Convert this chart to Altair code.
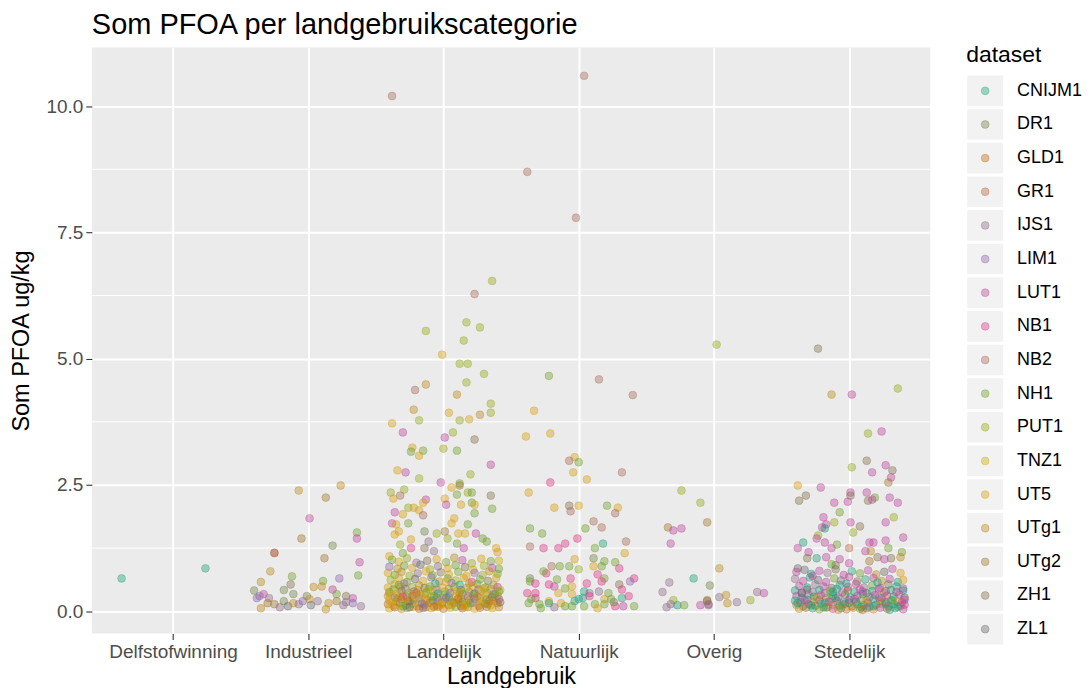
import json
import altair as alt
import pandas as pd

# ---------------- data ----------------
datasets = ["CNIJM1", "DR1", "GLD1", "GR1", "IJS1", "LIM1", "LUT1", "NB1", "NB2",
            "NH1", "PUT1", "TNZ1", "UT5", "UTg1", "UTg2", "ZH1", "ZL1"]
palette = ["#1B9E77", "#6E8244", "#C16711", "#BA6439", "#8E6C87", "#8A63AB", "#BC4499",
           "#DF3183", "#A76854", "#6E9E25", "#96A814", "#CEAA07", "#D69E09", "#BA8715",
           "#9E7426", "#826D46", "#666666"]
categories = ["Delfstofwinning", "Industrieel", "Landelijk", "Natuurlijk", "Overig", "Stedelijk"]
y_ticks = [0, 2.5, 5, 7.5, 10]
y_minor = [1.25, 3.75, 6.25, 8.75]

# (dataset index, jitter in category units, Som PFOA ug/kg)
delfstofwinning = [(0, -0.38, 0.65), (0, 0.24, 0.85)]

industrieel = [
    (13, -0.07, 2.39), (14, 0.13, 2.25), (13, 0.24, 2.49), (6, 0.01, 1.84), (14, -0.05, 1.44),
    (9, 0.36, 1.56), (6, 0.36, 1.44), (1, 0.18, 1.30), (3, -0.25, 1.15), (8, -0.25, 1.16),
    (14, 0.12, 1.05), (6, 0.38, 0.97), (13, -0.28, 0.79), (9, -0.12, 0.69), (9, 0.37, 0.71),
    (5, 0.23, 0.65), (13, -0.35, 0.58), (15, -0.13, 0.53), (9, 0.11, 0.60), (13, 0.04, 0.48),
    (1, -0.40, 0.41), (5, -0.38, 0.26), (6, -0.33, 0.34), (4, -0.29, 0.26), (14, -0.25, 0.14),
    (4, -0.21, 0.08), (1, -0.18, 0.20), (16, -0.15, 0.10), (1, -0.11, 0.34), (13, -0.11, 0.16),
    (4, -0.07, 0.14), (5, -0.04, 0.20), (1, -0.01, 0.30), (13, 0.01, 0.24), (4, 0.07, 0.20),
    (13, 0.10, 0.49), (13, 0.15, 0.16), (13, 0.13, 0.04), (6, 0.18, 0.43), (9, 0.21, 0.34),
    (14, 0.21, 0.20), (6, 0.33, 0.26), (5, 0.33, 0.16), (4, 0.39, 0.10), (13, -0.35, 0.06),
    (14, -0.30, 0.16), (1, -0.18, 0.42), (16, 0.02, 0.12), (4, 0.26, 0.12), (5, -0.36, 0.30),
    (15, 0.28, 0.30), (4, 0.28, 0.18),
]

landelijk = [
    (8, -0.38, 10.2), (10, 0.36, 6.54), (8, 0.23, 6.28), (10, 0.17, 5.72), (10, -0.13, 5.55),
    (10, 0.27, 5.62), (10, 0.15, 5.36), (12, -0.01, 5.08), (10, 0.12, 4.90), (10, 0.18, 4.90),
    (10, 0.30, 4.70), (10, 0.17, 4.53), (13, -0.13, 4.49), (8, -0.21, 4.38), (13, 0.10, 4.29),
    (10, 0.35, 4.11), (10, 0.35, 3.93), (13, -0.22, 3.99), (12, 0.04, 3.93), (13, 0.27, 3.89),
    (12, 0.19, 3.80), (10, 0.12, 3.78), (10, -0.18, 3.78), (12, -0.38, 3.72), (6, -0.30, 3.54),
    (6, 0.01, 3.44), (10, 0.07, 3.54), (15, 0.23, 3.40), (12, -0.23, 3.24), (9, -0.24, 3.16),
    (9, -0.15, 3.18), (12, -0.18, 3.08), (10, 0.00, 3.22), (9, 0.10, 3.18), (6, 0.35, 2.90),
    (12, -0.34, 2.79), (6, -0.28, 2.75), (10, -0.18, 2.63), (10, 0.20, 2.71), (6, -0.02, 2.55),
    (12, 0.06, 2.45), (9, 0.12, 2.53), (14, 0.12, 2.49), (10, -0.39, 2.35), (10, -0.29, 2.41),
    (8, -0.32, 2.29), (12, -0.37, 2.23), (6, -0.13, 2.21), (12, 0.01, 2.23), (9, 0.10, 2.31),
    (10, 0.18, 2.35), (9, 0.21, 2.35), (15, 0.35, 2.29), (6, 0.02, 2.11), (12, -0.15, 2.15),
    (12, 0.13, 2.11), (9, 0.21, 2.15), (12, 0.23, 2.11), (9, 0.36, 2.03), (10, -0.26, 2.05),
    (12, -0.22, 2.05), (12, -0.18, 2.00), (6, -0.36, 1.96), (12, -0.30, 1.92), (8, -0.15, 1.90),
    (12, 0.08, 1.84), (12, 0.06, 1.74), (9, 0.23, 1.94), (6, -0.38, 1.74), (12, -0.35, 1.72),
    (9, -0.26, 1.74), (12, -0.33, 1.58), (12, -0.36, 1.52), (1, -0.14, 1.58), (10, -0.05, 1.54),
    (14, 0.01, 1.58), (12, 0.11, 1.54), (12, 0.16, 1.54), (6, 0.24, 1.54), (9, 0.18, 1.72),
    (10, 0.03, 1.44), (9, 0.29, 1.44), (9, 0.32, 1.38), (12, -0.24, 1.42), (4, -0.11, 1.38),
    (10, -0.32, 1.32), (9, 0.10, 1.34), (12, 0.39, 1.25), (12, 0.40, 1.17), (15, -0.14, 1.25),
    (4, -0.07, 1.19), (7, -0.24, 1.25), (6, 0.15, 1.25), (9, -0.30, 1.15), (12, -0.40, 1.09),
    # dense part
    (9, -0.38, 1.02), (12, -0.33, 0.98), (10, -0.27, 1.05), (4, -0.20, 0.96), (15, -0.12, 1.00),
    (12, -0.05, 1.03), (9, 0.02, 0.97), (13, 0.08, 1.06), (6, 0.14, 1.01), (10, 0.21, 0.95),
    (12, 0.28, 1.04), (9, 0.35, 0.99), (11, 0.41, 1.00), (5, -0.40, 0.88), (13, -0.34, 0.84),
    (9, -0.29, 0.90), (12, -0.23, 0.86), (16, -0.17, 0.92), (10, -0.10, 0.83), (4, -0.04, 0.89),
    (12, 0.03, 0.85), (9, 0.09, 0.91), (15, 0.16, 0.87), (12, 0.22, 0.82), (10, 0.30, 0.90),
    (6, 0.36, 0.86), (9, 0.41, 0.84), (12, -0.41, 0.76), (9, -0.36, 0.72), (13, -0.31, 0.78),
    (10, -0.25, 0.70), (4, -0.19, 0.75), (12, -0.13, 0.79), (9, -0.08, 0.71), (15, -0.02, 0.77),
    (11, 0.04, 0.73), (9, 0.11, 0.78), (12, 0.17, 0.70), (5, 0.23, 0.76), (10, 0.29, 0.72),
    (13, 0.34, 0.79), (9, 0.40, 0.74), (10, -0.39, 0.62), (12, -0.33, 0.66), (9, -0.27, 0.58),
    (16, -0.21, 0.64), (12, -0.15, 0.60), (4, -0.09, 0.67), (13, -0.03, 0.59), (9, 0.03, 0.65),
    (10, 0.09, 0.61), (12, 0.15, 0.66), (7, 0.21, 0.58), (9, 0.27, 0.63), (15, 0.33, 0.60),
    (12, 0.39, 0.66), (0, -0.06, 0.55), (0, 0.12, 0.52), (12, -0.36, 0.53), (9, 0.25, 0.54),
    (13, -0.18, 0.51), (5, 0.06, 0.56), (10, 0.37, 0.52), (4, -0.29, 0.55),
    (12, -0.41, 0.47), (9, -0.37, 0.43), (13, -0.32, 0.49), (4, -0.28, 0.44), (10, -0.23, 0.48),
    (12, -0.19, 0.42), (15, -0.14, 0.46), (9, -0.10, 0.49), (5, -0.05, 0.43), (12, -0.01, 0.47),
    (13, 0.04, 0.44), (9, 0.08, 0.48), (16, 0.13, 0.42), (10, 0.17, 0.46), (12, 0.22, 0.49),
    (4, 0.26, 0.43), (9, 0.31, 0.47), (13, 0.35, 0.44), (6, 0.40, 0.48), (11, 0.42, 0.42),
    (9, -0.40, 0.38), (12, -0.35, 0.35), (15, -0.31, 0.40), (10, -0.26, 0.36), (4, -0.22, 0.39),
    (13, -0.17, 0.34), (9, -0.13, 0.37), (12, -0.08, 0.41), (0, -0.04, 0.35), (10, 0.01, 0.39),
    (5, 0.05, 0.36), (12, 0.10, 0.40), (9, 0.14, 0.34), (13, 0.19, 0.38), (16, 0.23, 0.35),
    (12, 0.28, 0.41), (10, 0.32, 0.37), (4, 0.37, 0.34), (9, 0.41, 0.39), (2, -0.20, 0.36),
    (13, -0.41, 0.30), (5, -0.36, 0.27), (12, -0.32, 0.32), (9, -0.27, 0.28), (2, -0.23, 0.31),
    (4, -0.18, 0.26), (12, -0.14, 0.33), (10, -0.09, 0.29), (15, -0.05, 0.27), (9, 0.00, 0.32),
    (0, 0.04, 0.28), (12, 0.09, 0.31), (13, 0.13, 0.26), (4, 0.18, 0.30), (9, 0.22, 0.33),
    (2, 0.27, 0.27), (12, 0.31, 0.32), (16, 0.36, 0.28), (10, 0.40, 0.31), (7, -0.30, 0.29),
    (12, -0.40, 0.22), (9, -0.35, 0.19), (2, -0.31, 0.24), (13, -0.26, 0.20), (4, -0.22, 0.23),
    (10, -0.17, 0.18), (12, -0.13, 0.25), (0, -0.08, 0.21), (5, -0.04, 0.19), (13, 0.01, 0.24),
    (9, 0.05, 0.20), (12, 0.10, 0.23), (15, 0.14, 0.18), (2, 0.19, 0.22), (4, 0.23, 0.25),
    (12, 0.28, 0.19), (9, 0.32, 0.23), (13, 0.37, 0.20), (6, 0.41, 0.24), (14, -0.01, 0.17),
    (2, -0.41, 0.14), (12, -0.37, 0.11), (13, -0.32, 0.16), (9, -0.28, 0.12), (0, -0.23, 0.15),
    (12, -0.19, 0.10), (4, -0.14, 0.13), (2, -0.10, 0.17), (13, -0.05, 0.11), (12, -0.01, 0.15),
    (9, 0.04, 0.12), (14, 0.08, 0.16), (2, 0.13, 0.10), (12, 0.17, 0.14), (5, 0.22, 0.17),
    (13, 0.26, 0.11), (0, 0.31, 0.15), (12, 0.35, 0.12), (2, 0.40, 0.16), (10, 0.15, 0.13),
    (12, -0.40, 0.06), (2, -0.36, 0.08), (13, -0.31, 0.05), (9, -0.27, 0.07), (12, -0.22, 0.09),
    (2, -0.18, 0.05), (14, -0.13, 0.08), (12, -0.09, 0.06), (13, -0.04, 0.09), (2, 0.00, 0.05),
    (12, 0.05, 0.07), (9, 0.09, 0.09), (2, 0.14, 0.06), (13, 0.18, 0.08), (12, 0.23, 0.05),
    (2, 0.27, 0.07), (14, 0.32, 0.09), (12, 0.36, 0.06), (13, 0.41, 0.08), (4, -0.15, 0.07),
    (12, -0.38, 0.18), (13, -0.34, 0.25), (9, -0.30, 0.10), (2, -0.25, 0.20), (12, -0.21, 0.28),
    (4, -0.16, 0.15), (13, -0.12, 0.22), (9, -0.07, 0.30), (12, -0.02, 0.12), (5, 0.02, 0.27),
    (13, 0.07, 0.18), (2, 0.11, 0.25), (12, 0.16, 0.09), (9, 0.20, 0.16), (13, 0.25, 0.29),
    (12, 0.29, 0.14), (2, 0.34, 0.21), (9, 0.38, 0.33), (15, 0.42, 0.18), (12, -0.40, 0.35),
    (10, -0.11, 0.44), (13, 0.12, 0.36), (12, 0.30, 0.45), (9, -0.33, 0.52), (12, 0.02, 0.58),
    (13, 0.19, 0.55), (16, -0.25, 0.08), (12, 0.06, 0.13), (2, -0.07, 0.09), (13, 0.33, 0.15),
]

natuurlijk = [
    (8, 0.04, 10.6), (8, -0.38, 8.70), (8, -0.02, 7.79), (9, -0.22, 4.66), (8, 0.15, 4.59),
    (8, 0.40, 4.28), (12, -0.33, 3.97), (12, -0.39, 3.46), (12, -0.21, 3.52), (12, -0.03, 3.05),
    (8, -0.07, 2.98), (9, 0.00, 2.95), (12, -0.04, 2.75), (12, 0.06, 2.61), (8, 0.32, 2.75),
    (7, -0.21, 2.55), (12, -0.37, 2.35), (12, -0.18, 2.05), (15, -0.07, 2.09), (8, -0.06, 1.98),
    (12, 0.00, 2.09), (9, 0.21, 2.09), (12, 0.29, 2.05), (8, 0.27, 1.94), (8, 0.11, 1.78),
    (8, 0.17, 1.66), (9, 0.05, 1.64), (9, -0.36, 1.64), (9, -0.27, 1.54), (8, -0.36, 1.28),
    (7, -0.26, 1.25), (7, -0.15, 1.25), (7, -0.10, 1.34), (7, -0.01, 1.44), (0, 0.18, 1.34),
    (9, 0.12, 1.25), (8, 0.35, 1.38), (12, 0.34, 1.15), (1, 0.11, 1.05), (12, -0.03, 1.03),
    (9, 0.27, 0.97), (9, 0.19, 0.99), (12, 0.11, 0.89), (9, 0.17, 0.89), (8, -0.20, 0.89),
    (9, -0.14, 0.89), (9, -0.07, 0.89), (7, 0.30, 0.85), (7, -0.24, 0.75), (9, -0.26, 0.79),
    (10, 0.00, 0.83), (7, 0.14, 0.73), (1, -0.36, 0.65), (9, -0.36, 0.59), (7, -0.06, 0.65),
    (9, -0.16, 0.63), (9, 0.19, 0.65), (7, 0.41, 0.65), (5, 0.38, 0.59), (7, -0.32, 0.55),
    (7, -0.22, 0.53), (6, -0.18, 0.49), (7, 0.06, 0.55), (7, 0.17, 0.59), (9, -0.10, 0.45),
    (12, -0.05, 0.49), (15, 0.30, 0.53), (7, 0.32, 0.43), (0, 0.04, 0.39), (4, 0.08, 0.36),
    (4, 0.15, 0.39), (9, 0.22, 0.36), (7, -0.38, 0.36), (7, -0.32, 0.36), (12, -0.15, 0.36),
    (12, -0.05, 0.34), (7, -0.32, 0.26), (9, -0.35, 0.24), (12, -0.22, 0.20), (12, -0.13, 0.16),
    (0, 0.00, 0.24), (0, 0.03, 0.26), (0, -0.03, 0.20), (7, 0.08, 0.30), (12, 0.19, 0.24),
    (9, 0.24, 0.24), (0, 0.32, 0.26), (7, 0.37, 0.30), (9, -0.37, 0.16), (0, -0.22, 0.16),
    (9, -0.10, 0.10), (9, -0.05, 0.10), (9, 0.04, 0.10), (9, 0.12, 0.14), (9, 0.19, 0.14),
    (7, 0.27, 0.10), (6, 0.33, 0.10), (9, 0.41, 0.10), (9, -0.29, 0.14), (1, 0.26, 0.18),
    (4, -0.18, 0.08), (12, 0.14, 0.06), (9, -0.28, 0.06),
]

overig = [
    (10, 0.02, 5.28), (10, -0.24, 2.39), (10, -0.10, 2.15), (14, -0.05, 1.76), (14, -0.34, 1.66),
    (6, -0.30, 1.60), (6, -0.24, 1.64), (6, -0.32, 1.34), (13, 0.04, 0.85), (0, -0.15, 0.65),
    (4, -0.33, 0.57), (1, -0.03, 0.51), (4, -0.38, 0.38), (4, 0.32, 0.38), (6, 0.37, 0.36),
    (4, 0.04, 0.28), (13, 0.09, 0.32), (10, 0.27, 0.22), (13, 0.10, 0.16), (4, 0.17, 0.18),
    (14, -0.05, 0.22), (6, -0.04, 0.14), (10, -0.30, 0.22), (0, -0.27, 0.12), (9, -0.22, 0.12),
    (4, -0.35, 0.08), (4, -0.32, 0.14), (6, -0.10, 0.12), (4, -0.04, 0.12), (15, -0.05, 0.20),
]

stedelijk = [
    (15, -0.23, 5.20), (13, -0.13, 4.29), (6, 0.02, 4.29), (10, 0.36, 4.41), (10, 0.14, 3.52),
    (6, 0.24, 3.56), (15, 0.13, 2.98), (10, 0.02, 2.85), (6, 0.27, 2.89), (15, 0.32, 2.79),
    (6, 0.17, 2.75), (6, 0.31, 2.65), (14, 0.29, 2.55), (12, -0.38, 2.49), (6, -0.21, 2.45),
    (15, -0.32, 2.29), (15, -0.37, 2.19), (6, 0.01, 2.35), (15, 0.01, 2.29), (6, 0.13, 2.35),
    (9, 0.19, 2.25), (15, 0.14, 2.19), (6, 0.17, 2.21), (6, 0.30, 2.25), (6, -0.11, 2.15),
    (6, -0.01, 2.17), (6, 0.36, 2.15), (9, -0.07, 1.96), (6, -0.19, 1.86), (10, 0.33, 1.86),
    (6, 0.01, 1.76), (15, 0.08, 1.68), (10, -0.11, 1.76), (6, -0.20, 1.66), (6, -0.17, 1.72),
    (0, -0.18, 1.64), (6, 0.27, 1.76), (10, 0.03, 1.56), (10, -0.23, 1.50), (6, -0.24, 1.44),
    (6, 0.40, 1.46), (0, -0.34, 1.36), (6, -0.18, 1.36), (6, -0.13, 1.25), (9, -0.09, 1.32),
    (6, 0.15, 1.36), (6, 0.18, 1.36), (6, 0.27, 1.40), (6, -0.38, 1.25), (3, 0.00, 1.25),
    (9, 0.29, 1.25), (6, -0.30, 1.17), (6, 0.12, 1.19), (13, 0.16, 1.19), (9, 0.39, 1.17),
    (15, -0.31, 1.05), (0, -0.24, 1.05), (6, -0.17, 1.07), (6, -0.07, 1.03), (9, -0.13, 0.93),
    (1, -0.10, 0.91), (15, 0.21, 1.07), (15, 0.31, 1.05), (13, 0.38, 1.07), (16, -0.38, 0.85),
    (6, 0.00, 0.95), (14, 0.15, 0.99), (6, 0.26, 1.03),
    # dense part
    (6, -0.39, 0.78), (16, -0.33, 0.82), (0, -0.28, 0.74), (6, -0.22, 0.80), (4, -0.16, 0.76),
    (15, -0.10, 0.83), (6, -0.04, 0.72), (0, 0.02, 0.79), (9, 0.08, 0.75), (6, 0.14, 0.81),
    (13, 0.20, 0.73), (16, 0.26, 0.78), (6, 0.32, 0.84), (12, 0.38, 0.76), (4, -0.40, 0.64),
    (6, -0.34, 0.60), (0, -0.29, 0.67), (16, -0.23, 0.62), (6, -0.17, 0.58), (9, -0.11, 0.65),
    (4, -0.06, 0.61), (6, 0.00, 0.68), (15, 0.06, 0.59), (0, 0.12, 0.63), (6, 0.18, 0.66),
    (13, 0.24, 0.60), (6, 0.30, 0.64), (0, 0.36, 0.58), (12, 0.40, 0.62), (6, -0.37, 0.50),
    (0, -0.31, 0.47), (4, -0.25, 0.53), (6, -0.19, 0.49), (16, -0.13, 0.46), (0, -0.07, 0.52),
    (7, -0.01, 0.48), (6, 0.05, 0.54), (4, 0.11, 0.47), (9, 0.17, 0.51), (6, 0.23, 0.46),
    (15, 0.29, 0.53), (0, 0.35, 0.49), (6, 0.40, 0.45),
    (0, -0.40, 0.41), (6, -0.35, 0.37), (16, -0.31, 0.43), (4, -0.27, 0.38), (0, -0.22, 0.42),
    (6, -0.18, 0.36), (9, -0.14, 0.40), (0, -0.09, 0.44), (6, -0.05, 0.37), (15, -0.01, 0.41),
    (0, 0.04, 0.38), (6, 0.08, 0.43), (16, 0.13, 0.36), (0, 0.17, 0.40), (6, 0.22, 0.44),
    (13, 0.26, 0.37), (0, 0.31, 0.42), (6, 0.35, 0.38), (0, 0.40, 0.41),
    (6, -0.39, 0.30), (0, -0.35, 0.27), (4, -0.30, 0.33), (0, -0.26, 0.29), (6, -0.21, 0.32),
    (9, -0.17, 0.26), (0, -0.12, 0.31), (6, -0.08, 0.28), (1, -0.03, 0.33), (0, 0.01, 0.27),
    (6, 0.06, 0.30), (0, 0.10, 0.34), (4, 0.15, 0.28), (6, 0.19, 0.32), (0, 0.24, 0.26),
    (7, 0.28, 0.31), (0, 0.33, 0.29), (6, 0.37, 0.33), (16, 0.41, 0.27),
    (0, -0.40, 0.21), (6, -0.36, 0.18), (0, -0.31, 0.23), (13, -0.27, 0.19), (6, -0.22, 0.22),
    (0, -0.18, 0.17), (9, -0.13, 0.24), (6, -0.09, 0.20), (0, -0.04, 0.18), (6, 0.00, 0.23),
    (0, 0.05, 0.19), (9, 0.09, 0.22), (6, 0.14, 0.17), (0, 0.18, 0.24), (13, 0.23, 0.20),
    (6, 0.27, 0.18), (0, 0.32, 0.22), (12, 0.36, 0.19), (6, 0.41, 0.23),
    (13, -0.39, 0.13), (0, -0.34, 0.10), (6, -0.30, 0.14), (2, -0.25, 0.11), (0, -0.21, 0.15),
    (9, -0.16, 0.09), (13, -0.12, 0.13), (0, -0.07, 0.11), (6, -0.03, 0.15), (2, 0.02, 0.10),
    (0, 0.06, 0.14), (9, 0.11, 0.12), (6, 0.15, 0.09), (0, 0.20, 0.13), (13, 0.24, 0.15),
    (6, 0.29, 0.10), (0, 0.33, 0.14), (2, 0.38, 0.11), (6, 0.41, 0.13),
    (13, -0.37, 0.05), (2, -0.32, 0.07), (0, -0.27, 0.06), (9, -0.22, 0.04), (13, -0.17, 0.07),
    (6, -0.12, 0.05), (0, -0.06, 0.06), (2, -0.02, 0.04), (13, 0.03, 0.07), (9, 0.08, 0.05),
    (0, 0.13, 0.06), (13, 0.18, 0.04), (6, 0.23, 0.07), (2, 0.28, 0.05), (0, 0.34, 0.06),
    (6, 0.40, 0.04),
    (0, -0.38, 0.16), (6, -0.33, 0.22), (0, -0.28, 0.12), (13, -0.24, 0.28), (0, -0.19, 0.08),
    (6, -0.15, 0.19), (0, -0.10, 0.26), (9, -0.05, 0.13), (0, 0.00, 0.17), (6, 0.04, 0.24),
    (0, 0.09, 0.08), (13, 0.13, 0.21), (0, 0.18, 0.10), (6, 0.22, 0.28), (0, 0.27, 0.15),
    (9, 0.31, 0.21), (0, 0.36, 0.09), (6, 0.39, 0.18), (16, -0.35, 0.36), (0, -0.12, 0.38),
    (6, 0.10, 0.39), (4, 0.27, 0.40), (0, -0.02, 0.55), (6, -0.27, 0.70), (0, 0.21, 0.57),
    (13, -0.08, 0.03), (2, 0.10, 0.03), (0, 0.30, 0.03),
]

groups = [delfstofwinning, industrieel, landelijk, natuurlijk, overig, stedelijk]

rows = []
for ci, pts in enumerate(groups):
    for s, j, v in pts:
        rows.append({"cat": ci, "jit": j, "dataset": datasets[s], "pfoa": v})
df = pd.DataFrame(rows)

FONT = "Liberation Sans"
PT_SIZE = 62

color_scale = alt.Scale(domain=datasets, range=palette)
y_scale = alt.Scale(domain=[-0.44, 11.16], nice=False, zero=False)
x_scale = alt.Scale(domain=[-0.6, 5.6], nice=False, zero=False)

y_axis = alt.Axis(values=y_ticks, format=".1f", grid=True, gridColor="white", gridWidth=2,
                  domain=False, tickColor="#333333", tickSize=6, tickWidth=1.1,
                  labelColor="#4D4D4D", labelFontSize=19, labelPadding=3, labelFont=FONT,
                  labelFlush=False, titleFontSize=23.5, titleColor="black",
                  titleFontWeight="normal", titleFont=FONT, titlePadding=12)

label_expr = json.dumps(categories) + "[datum.value]"
x_axis = alt.Axis(values=list(range(len(categories))), labelExpr=label_expr, grid=True,
                  gridColor="white", gridWidth=2, domain=False, tickColor="#333333",
                  tickSize=6, tickWidth=1.1, labelColor="#4D4D4D", labelFontSize=19,
                  labelPadding=3, labelFont=FONT, labelOverlap=False, labelFlush=False,
                  titleFontSize=23.5, titleColor="black", titleFontWeight="normal",
                  titleFont=FONT, titlePadding=3)

minor = alt.Chart(pd.DataFrame({"v": y_minor})).mark_rule(color="white", strokeWidth=1).encode(
    y=alt.Y("v:Q", scale=y_scale, axis=y_axis, title="Som PFOA ug/kg")
)

points = alt.Chart(df).transform_calculate(
    xpos="datum.cat + datum.jit"
).mark_circle(size=PT_SIZE, fillOpacity=0.4, strokeOpacity=0.4, strokeWidth=0.8).encode(
    x=alt.X("xpos:Q", scale=x_scale, axis=x_axis, title="Landgebruik"),
    y=alt.Y("pfoa:Q", scale=y_scale, axis=y_axis, title="Som PFOA ug/kg"),
    fill=alt.Fill("dataset:N", scale=color_scale, legend=None),
    stroke=alt.Stroke("dataset:N", scale=color_scale, legend=None),
)

main = alt.layer(minor, points).properties(
    width=840, height=587,
    view=alt.ViewBackground(fill="#EBEBEB", strokeWidth=0),
    title=alt.Title("Som PFOA per landgebruikscategorie", anchor="start", frame="group",
                    fontSize=29, fontWeight="normal", color="black", font=FONT, offset=8),
)

# ---------------- legend ----------------
leg_df = pd.DataFrame({"dataset": datasets})
y_leg = alt.Y("dataset:N", sort=datasets, axis=None,
              scale=alt.Scale(domain=datasets, range=[28, 598], paddingInner=0.09, paddingOuter=0.0))

keys = alt.Chart(leg_df).mark_rect(color="#F2F2F2").encode(
    x=alt.value(0), x2=alt.value(36), y=y_leg)
dots = alt.Chart(leg_df).mark_circle(size=PT_SIZE, fillOpacity=0.4, strokeOpacity=0.4,
                                     strokeWidth=0.8).encode(
    x=alt.value(18), y=y_leg,
    fill=alt.Fill("dataset:N", scale=color_scale, legend=None),
    stroke=alt.Stroke("dataset:N", scale=color_scale, legend=None))
labels = alt.Chart(leg_df).mark_text(align="left", baseline="middle", fontSize=18, font=FONT,
                                     color="black").encode(
    x=alt.value(50), y=y_leg, text="dataset:N")
leg_title = alt.Chart(pd.DataFrame({"t": ["dataset"]})).mark_text(
    align="left", baseline="alphabetic", fontSize=23, font=FONT, color="black").encode(
    x=alt.value(-1), y=alt.value(14), text="t:N")

legend = alt.layer(keys, dots, labels, leg_title).properties(width=112, height=598)

chart = alt.hconcat(main, legend, spacing=37, bounds="flush").resolve_scale(
    x="independent", y="independent"
).properties(
    padding={"left": 2, "top": 2, "right": 0, "bottom": 0}
).configure(font=FONT).configure_view(strokeWidth=0)

chart.save("out.html", embed_options={"renderer": "svg", "actions": False})
